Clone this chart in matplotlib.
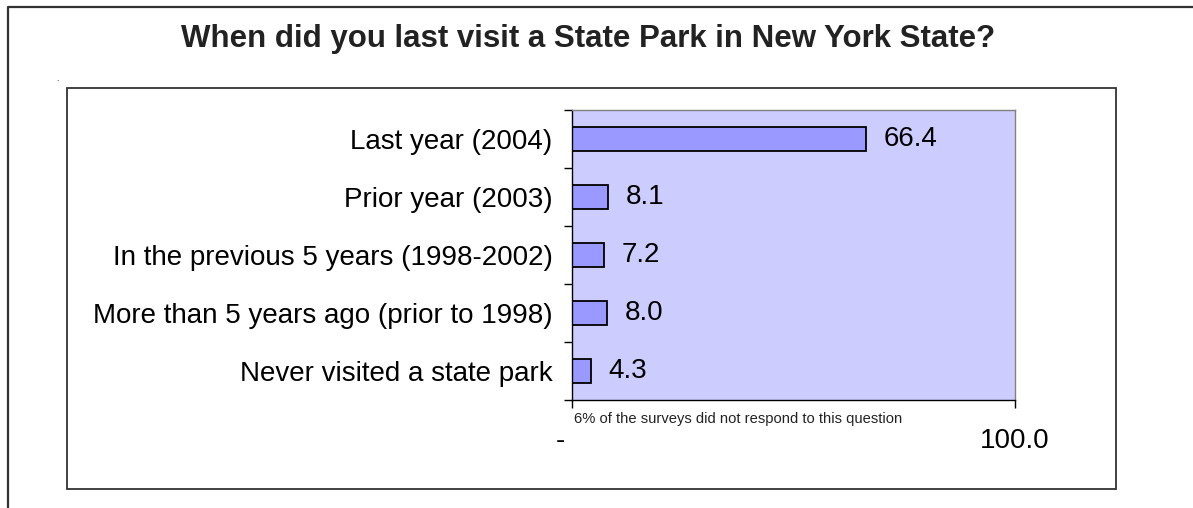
import matplotlib
matplotlib.use('Agg')
import matplotlib.pyplot as plt
from matplotlib.lines import Line2D
from matplotlib.patches import Rectangle
import numpy as np

plt.rcParams['font.family'] = ['Liberation Sans', 'DejaVu Sans']

# respuestas a la encuesta (porcentaje)
categorias = ['Last year (2004)',
              'Prior year (2003)',
              'In the previous 5 years (1998-2002)',
              'More than 5 years ago (prior to 1998)',
              'Never visited a state park']
valores = [66.4, 8.1, 7.2, 8.0, 4.3]
xticks = [0, 100]
xtick_labels = ['-   ', '100.0']

W, H = 1193, 508
fig = plt.figure(figsize=(W / 100, H / 100), dpi=100)

def fx(px):
    return px / W

def fy(py):
    return 1 - py / H

# marcos de la figura
fig.add_artist(Line2D([fx(8), fx(8), 1], [0, fy(7), fy(7)], color='#333333', lw=1.6))
fig.add_artist(Rectangle((fx(67), fy(489)), fx(1116) - fx(67), fy(88) - fy(489),
                         fill=False, ec='#333333', lw=1.3, transform=fig.transFigure))
fig.text(fx(57), fy(80), '.', fontsize=6, ha='center', va='center')

fig.text(fx(588), fy(39), 'When did you last visit a State Park in New York State?',
         fontsize=22.5, fontweight='bold', ha='center', va='center', color='#222222')

ax = fig.add_axes([fx(572), fy(400), fx(1015) - fx(572), fy(110) - fy(400)])
ax.set_facecolor('#CCCCFF')

y = np.arange(len(categorias))
ax.barh(y, valores, height=0.4, color='#9999FF', edgecolor='black', linewidth=1.3)
for yi, v in zip(y, valores):
    ax.text(v + 4, yi, f'{v:.1f}', va='center', ha='left', fontsize=20)

ax.set_xlim(0, 100)
ax.set_ylim(len(categorias) - 0.5, -0.5)

ax.set_yticks(y)
ax.set_yticklabels(categorias, fontsize=20)
ax.tick_params(axis='y', which='major', length=0, pad=14)
ax.set_yticks(np.arange(len(categorias) + 1) - 0.5, minor=True)
ax.tick_params(axis='y', which='minor', length=6, width=1, direction='out')

ax.set_xticks(xticks)
ax.set_xticklabels(xtick_labels, fontsize=20)
ax.tick_params(axis='x', length=6, width=1, direction='out', pad=14)

for lado in ['top', 'right']:
    ax.spines[lado].set_color('#808080')
    ax.spines[lado].set_linewidth(1)
for lado in ['left', 'bottom']:
    ax.spines[lado].set_color('black')
    ax.spines[lado].set_linewidth(1)

ax.text(0.005, -0.04, '6% of the surveys did not respond to this question',
        transform=ax.transAxes, fontsize=10.6, va='top', ha='left', color='#222222')

fig.savefig('out.png', dpi=100)
